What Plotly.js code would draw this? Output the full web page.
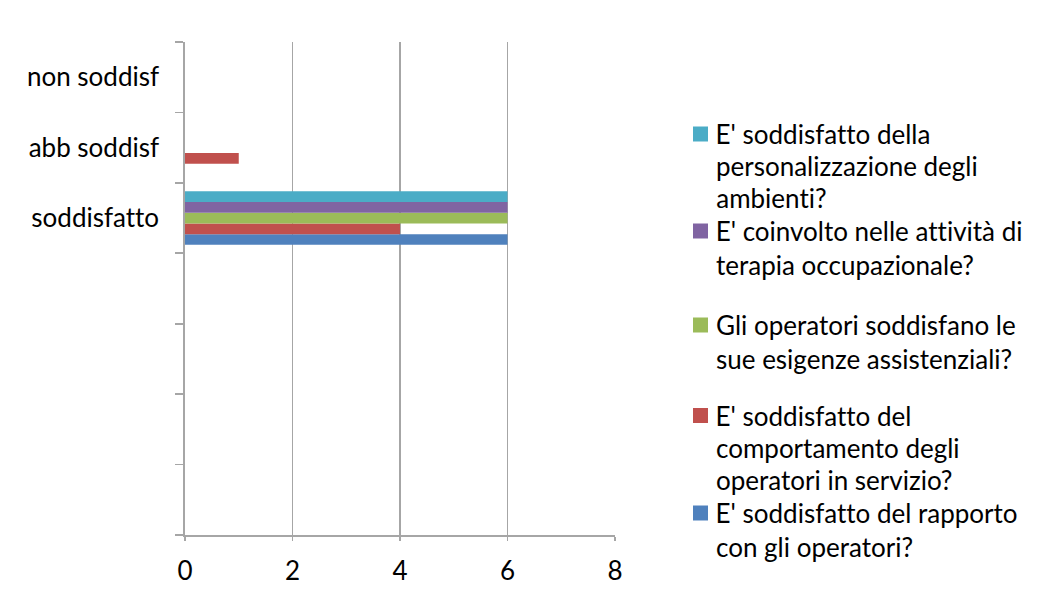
<!DOCTYPE html>
<html>
<head>
<meta charset="utf-8">
<script src="https://cdn.plot.ly/plotly-3.0.1.min.js"></script>
<style>
html,body{margin:0;padding:0;background:#fff;}
#chart{width:1057px;height:594px;}
#chart text{font-variant-ligatures:none;font-feature-settings:"liga" 0;}
</style>
</head>
<body>
<div id="chart"></div>
<script>
// Categories, bottom to top (four unlabeled rows under "soddisfatto")
const categories = ["    ", "   ", "  ", " ", "soddisfatto", "abb soddisf", "non soddisf"];

const seriesNames = [
  "E' soddisfatto del rapporto<br>con gli operatori?",
  "E' soddisfatto del<br>comportamento degli<br>operatori in servizio?",
  "Gli operatori soddisfano le<br>sue esigenze assistenziali?",
  "E' coinvolto nelle attività di<br>terapia occupazionale?",
  "E' soddisfatto della<br>personalizzazione degli<br>ambienti?"
];
const seriesColors = ["#4F81BD", "#C0504D", "#9BBB59", "#8064A2", "#4BACC6"];

const rapporto        = [0, 0, 0, 0, 6, 0, 0];
const comportamento   = [0, 0, 0, 0, 4, 1, 0];
const esigenze        = [0, 0, 0, 0, 6, 0, 0];
const terapia         = [0, 0, 0, 0, 6, 0, 0];
const personalizzaz   = [0, 0, 0, 0, 6, 0, 0];
const seriesValues = [rapporto, comportamento, esigenze, terapia, personalizzaz];

const xTicks = [0, 2, 4, 6, 8];

const FONT = "Lato, 'Open Sans', sans-serif";
const W = 1057, H = 594;
const L = 185, R = 615, T = 42, B = 535;
const px2x = p => (p - L) / (R - L);
const px2y = p => (B - p) / (B - T);

const traces = seriesValues.map((vals, i) => ({
  type: "bar",
  orientation: "h",
  name: seriesNames[i].replace(/<br>/g, " "),
  x: vals,
  y: categories,
  marker: { color: seriesColors[i], line: { width: 0 } },
  hoverinfo: "x+name"
}));

// Legend drawn as shapes + annotations (Excel-like spacing), top entry first
const shapes = [];
const annotations = [];
const order = [4, 3, 2, 1, 0];
const entryTop = [134, 231, 325, 415.5, 513];
order.forEach((si, k) => {
  const cy = entryTop[k];
  const lines = seriesNames[si].split("<br>");
  const lineH = lines.length > 2 ? 32 : 33.5;
  shapes.push({
    type: "rect", xref: "paper", yref: "paper",
    x0: px2x(693), x1: px2x(708), y0: px2y(cy + 7.5), y1: px2y(cy - 7.5),
    fillcolor: seriesColors[si], line: { width: 0 }
  });
  lines.forEach((ln, j) => {
    annotations.push({
      xref: "paper", yref: "paper",
      x: px2x(715), y: px2y(cy + j * lineH),
      xanchor: "left", yanchor: "middle",
      text: ln, showarrow: false, borderpad: 0,
      font: { family: FONT, size: 26, color: "#000" }
    });
  });
});

const layout = {
  width: W, height: H,
  margin: { l: L, r: W - R, t: T, b: H - B, pad: 0 },
  paper_bgcolor: "#fff", plot_bgcolor: "#fff",
  barmode: "group",
  bargap: 0.24,
  bargroupgap: 0,
  showlegend: false,
  font: { family: FONT, size: 26, color: "#000" },
  xaxis: {
    range: [0, 8],
    tickvals: xTicks,
    ticktext: xTicks.map(String),
    showgrid: true, gridcolor: "#A6A6A6", gridwidth: 1.7,
    zeroline: false,
    showline: true, linecolor: "#A6A6A6", linewidth: 1.7,
    ticks: "outside", ticklen: 4, tickcolor: "#A6A6A6", tickwidth: 1.7,
    ticklabelstandoff: 8,
    tickfont: { family: FONT, size: 26, color: "#000" },
    fixedrange: true
  },
  yaxis: {
    type: "category",
    categoryorder: "array",
    categoryarray: categories,
    range: [-0.5, 6.5],
    showgrid: false, zeroline: false,
    showline: true, linecolor: "#A6A6A6", linewidth: 1.7,
    ticks: "outside", ticklen: 8, tickcolor: "#A6A6A6", tickwidth: 1.7,
    tickson: "boundaries",
    ticklabelstandoff: 19,
    tickfont: { family: FONT, size: 26, color: "#000" },
    fixedrange: true
  },
  shapes: shapes,
  annotations: annotations
};

Plotly.newPlot("chart", traces, layout, { displayModeBar: false, staticPlot: true });
</script>
</body>
</html>
